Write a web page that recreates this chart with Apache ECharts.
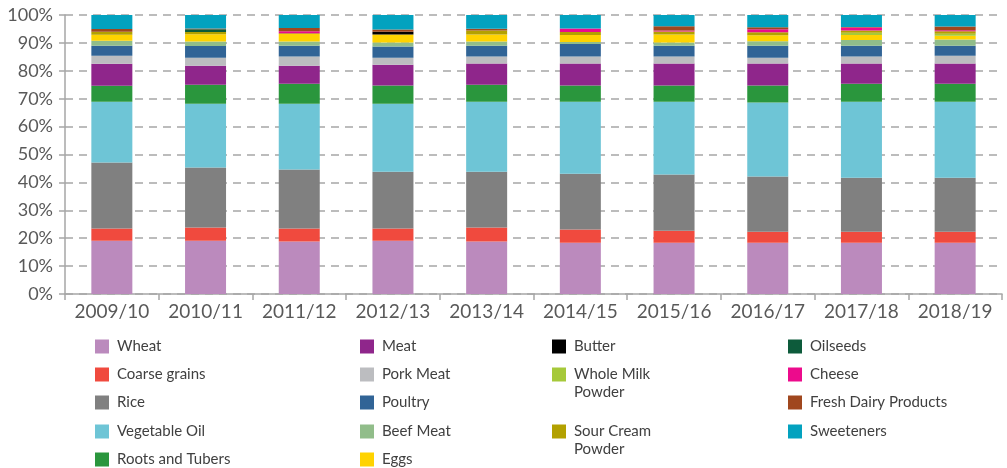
<!DOCTYPE html>
<html>
<head>
<meta charset="utf-8">
<script src="https://cdn.jsdelivr.net/npm/echarts@6/dist/echarts.min.js"></script>
<style>
  html, body { margin: 0; padding: 0; background: #ffffff; }
  #chart { width: 1007px; height: 468px; }
</style>
</head>
<body>
<div id="chart"></div>
<script>
// Marketing years on the category axis
const years = ['2009/10', '2010/11', '2011/12', '2012/13', '2013/14', '2014/15', '2015/16', '2016/17', '2017/18', '2018/19'];

// Share of each commodity group (%), one value per year
const wheat          = [19.1, 19.1, 18.8, 19.1, 18.8, 18.4, 18.4, 18.4, 18.4, 18.4];
const coarseGrains   = [4.4, 4.7, 4.7, 4.4, 5.0, 4.7, 4.3, 3.9, 3.9, 3.9];
const rice           = [23.6, 21.5, 21.1, 20.3, 20.0, 20.0, 20.1, 19.8, 19.4, 19.4];
const vegetableOil   = [21.8, 22.9, 23.6, 24.4, 25.1, 25.8, 26.1, 26.5, 27.2, 27.2];
const rootsTubers    = [5.7, 6.8, 7.2, 6.5, 6.1, 5.8, 5.8, 6.1, 6.5, 6.5];
const meat           = [7.9, 6.8, 6.4, 7.5, 7.6, 7.9, 7.9, 7.9, 7.2, 7.2];
const porkMeat       = [2.9, 2.9, 3.3, 2.5, 2.5, 2.5, 2.5, 2.1, 2.5, 2.8];
const poultry        = [3.6, 4.2, 3.9, 4.0, 3.9, 4.5, 3.9, 4.3, 3.9, 3.6];
const beefMeat       = [1.8, 1.6, 1.5, 1.4, 1.5, 0.7, 1.1, 1.6, 2.0, 2.2];
const eggs           = [2.1, 2.6, 2.7, 2.9, 2.5, 2.5, 2.9, 2.1, 1.8, 1.4];
const butter         = [0, 0, 0, 1.0, 0, 0, 0, 0, 0, 0];
const wholeMilk      = [0, 0, 0, 0, 0, 0, 0, 0, 0.8, 0.7];
const sourCream      = [1.1, 0.8, 0.3, 0, 1.4, 1.1, 1.1, 1.1, 0.8, 0.9];
const oilseeds       = [0, 1.0, 0, 0, 0, 0, 0, 0, 0, 0];
const cheese         = [0, 0, 0.7, 0, 0, 1.3, 0.3, 1.1, 1.1, 0.3];
const freshDairy     = [1.0, 0.3, 1.1, 0.8, 0.7, 0, 1.6, 0.7, 0.2, 1.4];
const sweeteners     = [5.0, 4.8, 4.7, 5.2, 4.9, 4.8, 4.0, 4.4, 4.3, 4.1];

// Y axis tick values (percent)
const yTicks = [0, 10, 20, 30, 40, 50, 60, 70, 80, 90, 100];

// Series in stacking order (bottom to top)
const groups = [
  { name: 'Wheat',                 data: wheat,        color: '#bb8abd' },
  { name: 'Coarse grains',         data: coarseGrains, color: '#f04a3e' },
  { name: 'Rice',                  data: rice,         color: '#808080' },
  { name: 'Vegetable Oil',         data: vegetableOil, color: '#6ec5d6' },
  { name: 'Roots and Tubers',      data: rootsTubers,  color: '#2a963d' },
  { name: 'Meat',                  data: meat,         color: '#8f268b' },
  { name: 'Pork Meat',             data: porkMeat,     color: '#bcbdc0' },
  { name: 'Poultry',               data: poultry,      color: '#316496' },
  { name: 'Beef Meat',             data: beefMeat,     color: '#91bd8a' },
  { name: 'Eggs',                  data: eggs,         color: '#ffd300' },
  { name: 'Butter',                data: butter,       color: '#000000' },
  { name: 'Whole Milk Powder',     data: wholeMilk,    color: '#a6c93a' },
  { name: 'Sour Cream Powder',     data: sourCream,    color: '#b3a100' },
  { name: 'Oilseeds',              data: oilseeds,     color: '#0d5b3b' },
  { name: 'Cheese',                data: cheese,       color: '#ec0b8c' },
  { name: 'Fresh Dairy Products',  data: freshDairy,   color: '#a0471e' },
  { name: 'Sweeteners',            data: sweeteners,   color: '#03a2bf' }
];

// Legend layout: column x positions and row centre lines
const colX = [95, 360, 552, 788];
const rowY = [346, 374, 402, 431, 459];
const legendSlots = {
  'Wheat': [0, 0], 'Coarse grains': [0, 1], 'Rice': [0, 2], 'Vegetable Oil': [0, 3], 'Roots and Tubers': [0, 4],
  'Meat': [1, 0], 'Pork Meat': [1, 1], 'Poultry': [1, 2], 'Beef Meat': [1, 3], 'Eggs': [1, 4],
  'Butter': [2, 0], 'Whole Milk Powder': [2, 1], 'Sour Cream Powder': [2, 3],
  'Oilseeds': [3, 0], 'Cheese': [3, 1], 'Fresh Dairy Products': [3, 2], 'Sweeteners': [3, 3]
};
// Two-line legend labels: first line in the legend, second line as a text graphic
const wrapped = { 'Whole Milk Powder': ['Whole Milk', 'Powder'], 'Sour Cream Powder': ['Sour Cream', 'Powder'] };

const FONT = 'Lato, "Open Sans", sans-serif';
const ICON = 14;

const legends = groups.map(g => {
  const [c, r] = legendSlots[g.name];
  return {
    data: [g.name],
    left: colX[c],
    top: rowY[r] - ICON / 2,
    orient: 'vertical',
    padding: 0,
    itemWidth: ICON,
    itemHeight: ICON,
    icon: 'rect',
    selectedMode: false,
    formatter: name => (wrapped[name] ? wrapped[name][0] : name),
    textStyle: { fontFamily: FONT, fontSize: 15, color: '#404040', padding: [0, 0, 0, 3] }
  };
});

const graphics = Object.keys(wrapped).map(name => {
  const [c, r] = legendSlots[name];
  return {
    type: 'text',
    left: colX[c] + ICON + 8,
    top: rowY[r] + 11,
    style: { text: wrapped[name][1], font: '15px ' + FONT, fill: '#404040' }
  };
});

const chart = echarts.init(document.getElementById('chart'), null, { renderer: 'canvas' });

chart.setOption({
  animation: false,
  backgroundColor: '#ffffff',
  grid: { left: 65, right: 5, top: 15, bottom: 174, containLabel: false },
  legend: legends,
  graphic: graphics,
  xAxis: {
    type: 'category',
    data: years,
    boundaryGap: true,
    axisLine: { lineStyle: { color: '#a6a6a6', width: 1.5 } },
    axisTick: { show: true, alignWithLabel: false, length: 6, lineStyle: { color: '#a6a6a6', width: 1.5 } },
    axisLabel: { interval: 0, hideOverlap: false, fontFamily: FONT, fontSize: 19, color: '#595959', margin: 8 }
  },
  yAxis: {
    type: 'value',
    min: yTicks[0],
    max: yTicks[yTicks.length - 1],
    interval: 10,
    axisLine: { show: true, lineStyle: { color: '#a6a6a6', width: 1.5 } },
    axisTick: { show: true, length: 6, lineStyle: { color: '#a6a6a6', width: 1.5 } },
    axisLabel: { fontFamily: FONT, fontSize: 18, color: '#595959', margin: 12, formatter: '{value}%' },
    splitLine: { show: true, lineStyle: { color: '#a6a6a6', width: 1.5, type: [8, 6] } }
  },
  series: groups.map(g => ({
    name: g.name,
    type: 'bar',
    stack: 'share',
    data: g.data,
    barWidth: 41,
    itemStyle: { color: g.color },
    emphasis: { disabled: true }
  }))
});
</script>
</body>
</html>
